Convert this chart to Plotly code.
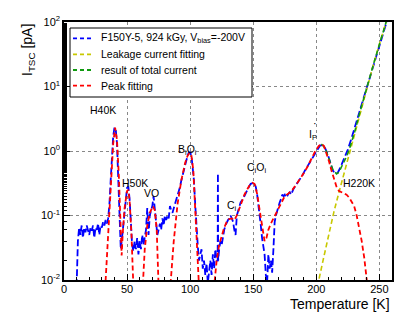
import math
import plotly.graph_objects as go

# ---- measured data (blue) ----
data_T = [10, 11, 12, 13, 14, 15, 16, 17, 18, 19, 20, 21, 22, 23, 24, 25, 26, 27, 28, 29,
          30, 31, 32, 33, 34, 35, 36, 37, 38, 39, 40, 41, 42, 43, 44, 45, 46, 47, 48, 49,
          50, 51, 52, 53, 54, 55, 56, 57, 58, 59, 60, 61, 62, 63, 64, 65, 66, 67, 68, 69,
          70, 71, 72, 73, 74, 75, 76, 77, 78, 79, 80, 81, 82, 83, 84, 85, 86, 87, 88, 89,
          90, 91, 92, 93, 94, 95, 96, 97, 98, 99, 100, 101, 102, 103, 104, 105, 106, 107, 108, 109,
          110, 111, 112, 113, 114, 115, 116, 117, 118, 119, 120, 121, 121.8, 122, 122.2, 123, 124, 125, 126, 127,
          128, 129, 130, 131, 132, 133, 134, 135, 136, 137, 138, 139, 140, 141, 142, 143, 144, 145, 146, 147,
          148, 149, 150, 151, 152, 153, 154, 155, 156, 157, 158, 159, 160, 161, 162, 163, 164, 165, 166, 167,
          168, 169, 170, 171, 172, 173, 174, 175, 176, 177, 178, 179, 180, 181, 182, 183, 184, 185, 187, 189,
          191, 193, 195, 197, 199, 201, 203, 205, 207, 209, 211, 213, 215, 217, 219, 221, 223, 225, 228, 231,
          234, 237, 240, 245, 250, 255, 258]
data_I = [0.008, 0.04, 0.065, 0.05, 0.07, 0.045, 0.065, 0.055, 0.07, 0.06, 0.05, 0.065, 0.058, 0.07, 0.045, 0.065, 0.06, 0.075, 0.05, 0.07,
          0.065, 0.08, 0.07, 0.085, 0.075, 0.09, 0.15, 0.35, 0.9, 1.7, 2.3, 2.2, 1.3, 0.4, 0.1, 0.03, 0.045, 0.07, 0.12, 0.2,
          0.27, 0.28, 0.18, 0.08, 0.035, 0.028, 0.04, 0.03, 0.045, 0.025, 0.04, 0.03, 0.05, 0.035, 0.045, 0.06, 0.13, 0.05, 0.1, 0.12,
          0.14, 0.2, 0.12, 0.07, 0.05, 0.06, 0.075, 0.06, 0.09, 0.07, 0.1, 0.085, 0.1, 0.09, 0.14, 0.12, 0.11, 0.13, 0.15, 0.17,
          0.2, 0.24, 0.28, 0.35, 0.45, 0.5, 0.6, 0.75, 0.85, 0.95, 0.95, 0.85, 0.6, 0.35, 0.15, 0.06, 0.035, 0.02, 0.025, 0.03,
          0.015, 0.02, 0.012, 0.018, 0.009, 0.015, 0.02, 0.012, 0.025, 0.015, 0.03, 0.02, 0.02, 0.45, 0.02, 0.03, 0.04, 0.035, 0.05, 0.06,
          0.07, 0.08, 0.085, 0.09, 0.1, 0.09, 0.08, 0.06, 0.05, 0.1, 0.12, 0.14, 0.16, 0.17, 0.18, 0.2, 0.22, 0.25, 0.27, 0.29,
          0.31, 0.32, 0.32, 0.31, 0.28, 0.22, 0.16, 0.11, 0.07, 0.045, 0.03, 0.025, 0.012, 0.009, 0.025, 0.015, 0.02, 0.013, 0.03, 0.08,
          0.1, 0.12, 0.14, 0.16, 0.18, 0.21, 0.2, 0.21, 0.19, 0.2, 0.22, 0.23, 0.21, 0.24, 0.26, 0.28, 0.3, 0.32, 0.36, 0.42,
          0.5, 0.58, 0.68, 0.82, 0.95, 1.1, 1.22, 1.22, 1.1, 0.9, 0.65, 0.5, 0.45, 0.46, 0.55, 0.68, 0.85, 1.05, 1.6, 2.5,
          4.0, 6.3, 10, 21, 45, 95, 140]

# ---- leakage current fit (yellow) ----
leak_T = [200, 202, 206, 210, 214, 218, 222, 226, 230, 235, 240, 245, 250, 255, 260]
leak_I = [0.006, 0.01, 0.023, 0.052, 0.115, 0.23, 0.45, 0.85, 1.7, 4.2, 9.8, 21, 45, 95, 200]

# ---- total current (green) ----
total_T = [204, 207, 210, 213, 216, 218, 220, 222, 224, 226, 228, 230, 235, 240, 245, 250, 255, 260]
total_I = [1.28, 1.12, 0.76, 0.52, 0.44, 0.47, 0.57, 0.67, 0.82, 1.04, 1.35, 1.85, 4.3, 9.8, 21, 45, 95, 200]

# ---- peak fitting (red) ----
peak_T = [30, 33, 35, 37, 39, 40.5, 42, 43.5, 45, 45.7, 46.5, 48, 50, 51, 52, 53.5, 55, 56,
          60, 62.5, 64, 66, 68, 70.5, 72, 73.5, 75, 76,
          82, 84.5, 87, 90, 93, 96, 98, 99.5, 101, 102.5, 104, 105.5, 107, 108,
          117, 119.5, 121, 123, 125, 127, 129, 131, 133, 135, 137, 139, 141, 143, 145, 147, 149.5, 151, 153, 155,
          157, 159, 160.5, 162, 164, 166, 168, 170, 172, 175, 178, 181, 184, 187, 190, 193, 196, 199, 202, 204,
          206, 208, 210, 212, 214, 216, 218, 220, 222, 224, 226, 228, 230, 232, 234, 236, 238, 240, 241]
peak_I = [0.0001, 0.01, 0.05, 0.3, 1.3, 2.3, 1.5, 0.4, 0.06, 0.024, 0.05, 0.13, 0.24, 0.25, 0.17, 0.05, 0.008, 0.001,
          0.001, 0.01, 0.03, 0.07, 0.11, 0.14, 0.12, 0.06, 0.012, 0.002,
          0.002, 0.01, 0.04, 0.15, 0.35, 0.65, 0.85, 0.93, 0.85, 0.5, 0.15, 0.03, 0.008, 0.001,
          0.001, 0.01, 0.02, 0.035, 0.05, 0.065, 0.08, 0.088, 0.09, 0.085, 0.1, 0.13, 0.17, 0.21, 0.25, 0.29, 0.32, 0.31, 0.22, 0.12,
          0.065, 0.04, 0.045, 0.06, 0.075, 0.09, 0.11, 0.13, 0.16, 0.2, 0.22, 0.25, 0.3, 0.36, 0.45, 0.57, 0.75, 0.98, 1.2, 1.28,
          1.2, 0.95, 0.7, 0.5, 0.37, 0.28, 0.24, 0.23, 0.22, 0.21, 0.19, 0.165, 0.14, 0.1, 0.065, 0.04, 0.022, 0.01, 0.003]

# ---- labels ----
label_text = ["H40K", "H50K", "VO", "B<sub>i</sub>O<sub>i</sub>", "C<sub>i</sub>",
              "C<sub>i</sub>O<sub>i</sub>", "I<sub>P</sub>", "H220K"]
label_T = [31, 56, 69, 98, 133, 152.5, 197, 234]
label_I = [4.4, 0.32, 0.22, 1.05, 0.14, 0.55, 1.8, 0.32]

series_names = ["F150Y-5, 924 kGy, V<sub>bias</sub>=-200V", "Leakage current fitting",
                "result of total current", "Peak fitting"]
series_colors = ["#0000ff", "#c8c800", "#109a10", "#ff0000"]

x_ticks = [0, 50, 100, 150, 200, 250]
y_tickvals = [0.01, 0.1, 1, 10, 100]
y_ticktext = ["10<sup>-2</sup>", "10<sup>-1</sup>", "10<sup>0</sup>", "10<sup>1</sup>", "10<sup>2</sup>"]

FONT = "Liberation Sans, Arial, sans-serif"
ML, MR, MT, MB, W, H = 64, 15, 22, 46, 407, 326
PW, PH = W - ML - MR, H - MT - MB


def px_x(px):
    return (px - ML) / PW


def px_y(py):
    return (H - MB - py) / PH


fig = go.Figure()
series = [(data_T, data_I, "7px,3px", 1.8), (leak_T, leak_I, "5px,3px", 1.6),
          (total_T, total_I, "5px,3px", 1.6), (peak_T, peak_I, "5px,3px", 1.8)]
for (xs, ys, dash, wdt), name, col in zip(series, series_names, series_colors):
    fig.add_trace(go.Scatter(x=xs, y=ys, mode="lines", name=name, showlegend=False,
                             hoverinfo="skip",
                             line=dict(color=col, width=wdt, dash=dash)))

for t, x, y in zip(label_text, label_T, label_I):
    fig.add_annotation(x=x, y=math.log10(y), text=t, showarrow=False,
                       font=dict(family=FONT, size=10.5, color="black"))
# small dot above I_P
fig.add_annotation(x=199.3, y=math.log10(2.75), text="·", showarrow=False,
                   font=dict(family=FONT, size=11, color="black"))

# axis titles
fig.add_annotation(xref="paper", yref="paper", x=px_x(392), y=px_y(304), xanchor="right", yanchor="middle",
                   text="Temperature [K]", showarrow=False,
                   font=dict(family=FONT, size=14, color="black"))
fig.add_annotation(xref="paper", yref="paper", x=px_x(28), y=px_y(50), xanchor="center", yanchor="middle",
                   text="I<sub>TSC</sub> [pA]", textangle=-90, showarrow=False,
                   font=dict(family=FONT, size=14, color="black"))

# legend box (drawn manually to match the ROOT-style compact legend)
fig.add_shape(type="rect", xref="paper", yref="paper",
              x0=px_x(70), x1=px_x(252), y0=px_y(97), y1=px_y(28),
              line=dict(color="black", width=1), fillcolor="white", layer="above")
legend_rows = [38.3, 54.3, 70, 85.7]
for name, col, row in zip(series_names, series_colors, legend_rows):
    fig.add_shape(type="line", xref="paper", yref="paper",
                  x0=px_x(73), x1=px_x(92), y0=px_y(row), y1=px_y(row),
                  line=dict(color=col, width=1.8, dash="4px,3px"), layer="above")
    fig.add_annotation(xref="paper", yref="paper", x=px_x(99), y=px_y(row),
                       xanchor="left", yanchor="middle", text=name, showarrow=False,
                       font=dict(family=FONT, size=10.5, color="black"))

axis_common = dict(showline=True, linecolor="black", linewidth=1.5, mirror=True,
                   ticks="inside", ticklen=6, tickcolor="black",
                   showgrid=True, gridcolor="#888888", griddash="dot", gridwidth=1,
                   zeroline=False, tickfont=dict(family=FONT, size=11, color="black"))

fig.update_xaxes(range=[0, 260], tickvals=x_ticks, ticklabelstandoff=-2,
                 minor=dict(dtick=10, ticks="inside", ticklen=3, tickcolor="black", showgrid=False),
                 **axis_common)
fig.update_yaxes(type="log", range=[-2, 2], tickvals=y_tickvals, ticktext=y_ticktext,
                 minor=dict(ticks="inside", ticklen=3, tickcolor="black", showgrid=False),
                 **axis_common)

fig.update_layout(
    width=W, height=H,
    margin=dict(l=ML, r=MR, t=MT, b=MB),
    paper_bgcolor="white", plot_bgcolor="white",
    font=dict(family=FONT, size=11, color="black"),
    showlegend=False,
    hovermode=False,
)

fig.write_html("out.html", config={"displayModeBar": False},
               post_script="document.body.style.margin='0px';")
